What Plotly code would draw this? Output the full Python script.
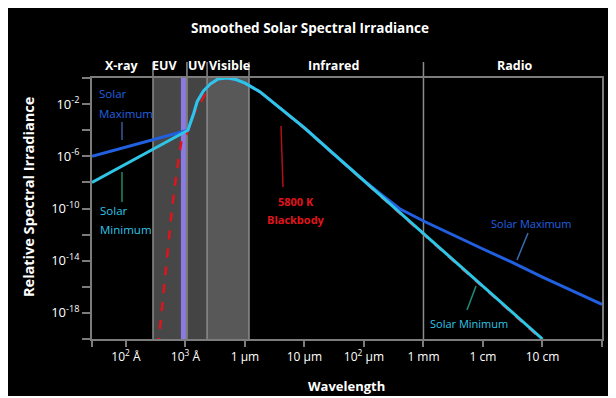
import plotly.graph_objects as go

# ---- data (wavelength in metres, relative irradiance) ----
max_wl = [2.69e-9, 1.10e-7, 1.38e-7, 1.58e-7, 2.00e-7, 2.63e-7, 3.55e-7, 5.01e-7, 7.08e-7,
          1.00e-6, 1.78e-6, 3.16e-6, 5.62e-6, 1.00e-5, 3.16e-5, 1.00e-4, 2.00e-4, 3.98e-4,
          1.00e-3, 3.16e-3, 1.00e-2, 3.16e-2, 1.00e-1, 1.0]
max_irr = [1.0e-6, 1.0e-4, 2.0e-3, 1.6e-2, 1.0e-1, 3.5e-1, 8.5e-1, 1.0, 7.6e-1,
           4.0e-1, 8.9e-2, 1.1e-2, 1.4e-3, 1.5e-4, 1.4e-6, 1.35e-8, 1.1e-9, 9.5e-11,
           1.1e-11, 1.0e-12, 7.9e-14, 7.1e-15, 5.6e-16, 4.5e-18]

min_wl = [2.69e-9, 1.10e-7, 1.38e-7, 1.58e-7, 2.00e-7, 2.63e-7, 3.55e-7, 5.01e-7, 7.08e-7,
          1.00e-6, 1.78e-6, 3.16e-6, 5.62e-6, 1.00e-5, 3.16e-5, 1.00e-4, 3.16e-4,
          1.00e-3, 3.16e-3, 1.00e-2, 3.16e-2, 1.00e-1]
min_irr = [1.0e-8, 1.0e-4, 2.0e-3, 1.6e-2, 1.0e-1, 3.5e-1, 8.5e-1, 1.0, 7.6e-1,
           4.0e-1, 8.9e-2, 1.1e-2, 1.4e-3, 1.5e-4, 1.4e-6, 1.35e-8, 1.26e-10,
           1.26e-12, 1.17e-14, 1.12e-16, 1.07e-18, 1.0e-20]

bb_wl = [3.47e-8, 3.98e-8, 4.68e-8, 5.89e-8, 7.24e-8, 8.71e-8, 1.05e-7, 1.32e-7, 1.78e-7,
         2.51e-7, 3.55e-7, 5.01e-7, 7.08e-7, 1.00e-6, 1.78e-6, 3.16e-6, 1.00e-5, 3.16e-5,
         1.00e-4, 3.16e-4, 1.00e-3, 1.00e-2, 1.00e-1, 1.12e-1]
bb_irr = [2.5e-21, 1.0e-18, 1.0e-15, 6.3e-11, 1.0e-7, 2.5e-5, 5.0e-5, 1.3e-3, 1.2e-2,
          2.5e-1, 8.0e-1, 0.95, 7.4e-1, 3.8e-1, 8.5e-2, 1.05e-2, 1.33e-4, 1.3e-6,
          1.2e-8, 1.15e-10, 1.05e-12, 9.5e-17, 8.9e-21, 5.0e-21]

# spectral bands (wavelength bounds in metres)
band_lo = [2.85e-8, 1.06e-7, 2.31e-7]
band_hi = [1.06e-7, 2.31e-7, 1.17e-6]
band_colors = ["#474747", "#444444", "#585858"]
lyman_lo, lyman_hi = 8.4e-8, 1.02e-7
radio_edge = 1.0e-3
band_labels = ["X-ray", "EUV", "UV", "Visible", "Infrared", "Radio"]

x_tickvals = [1e-8, 1e-7, 1e-6, 1e-5, 1e-4, 1e-3, 1e-2, 1e-1]
x_ticktext = ["10<sup>2</sup> Å", "10<sup>3</sup> Å", "1 µm", "10 µm", "10<sup>2</sup> µm",
              "1 mm", "1 cm", "10 cm"]
x_minor = [2.69e-9, 1.0]
y_exps = [-2, -6, -10, -14, -18]
y_minor_exps = [0, -4, -8, -12, -16, -20]

# ---- layout geometry (page pixels; the page body adds an 8px offset) ----
OFF = 8
W, H = 616 - OFF, 398 - OFF
L, R, T, B = 92, 602, 78, 339          # plot area in page pixels
def px(x):
    return (x - L) / (R - L)
def py(y):
    return (B - y) / (B - T)

BLUE = "#2160e0"
CYAN = "#2fc6e6"
RED = "#e0141c"
FONT = "Open Sans"
AXC = "#7c7c7c"

fig = go.Figure()
fig.add_trace(go.Scatter(x=bb_wl, y=bb_irr, mode="lines",
                         line=dict(color=RED, width=2.5, dash="dash"), hoverinfo="skip"))
fig.add_trace(go.Scatter(x=max_wl, y=max_irr, mode="lines",
                         line=dict(color=BLUE, width=3), hoverinfo="skip"))
fig.add_trace(go.Scatter(x=min_wl, y=min_irr, mode="lines",
                         line=dict(color=CYAN, width=3), hoverinfo="skip"))

shapes = []
shapes.append(dict(type="rect", xref="paper", yref="paper", x0=px(OFF), x1=px(614), y0=py(396), y1=py(OFF),
                   fillcolor="black", line=dict(width=0), layer="below"))
for lo, hi, c in zip(band_lo, band_hi, band_colors):
    shapes.append(dict(type="rect", xref="x", yref="paper", x0=lo, x1=hi, y0=0, y1=1,
                       fillcolor=c, line=dict(width=0), layer="below"))
shapes.append(dict(type="rect", xref="x", yref="paper", x0=lyman_lo, x1=lyman_hi, y0=0, y1=1,
                   fillcolor="#8b7be0", line=dict(width=0), layer="below"))
for xv in [band_lo[0], band_lo[1], band_lo[2], band_hi[2], radio_edge]:
    shapes.append(dict(type="line", xref="x", yref="paper", x0=xv, x1=xv, y0=0, y1=py(62),
                       line=dict(color="#8c8c8c", width=1.5), layer="below"))
ptrs = [((122, 122), (122, 140), "#3a5a9a"),
        ((122, 172), (122, 202), "#1f8a6a"),
        ((281, 126), (283, 187), "#b01018"),
        ((528, 233), (517, 260), "#3a6ab0"),
        ((476, 286), (467, 310), "#1f8a7a")]
for (a, b, c) in ptrs:
    shapes.append(dict(type="line", xref="paper", yref="paper", x0=px(a[0]), y0=py(a[1]),
                       x1=px(b[0]), y1=py(b[1]), line=dict(color=c, width=1.5)))

ann = []
def text(x, y, s, color="white", size=11, anchor="center", bold=False, angle=0):
    ann.append(dict(x=px(x), y=py(y), xref="paper", yref="paper", text=("<b>%s</b>" % s) if bold else s,
                    showarrow=False, xanchor=anchor, yanchor="middle", textangle=angle,
                    font=dict(family=FONT, size=size, color=color)))

text(310, 28, "Smoothed Solar Spectral Irradiance", size=13.5, bold=True)
for name, xc in zip(band_labels, [122, 164, 197, 229, 333, 515]):
    text(xc, 65, name, size=12.5, bold=True)
text(97, 93, "Solar", BLUE, 11.5, "left")
text(97, 113, "Maximum", BLUE, 11.5, "left")
text(98, 210, "Solar", CYAN, 11.5, "left")
text(98, 229, "Minimum", CYAN, 11.5, "left")
text(296, 201, "5800 K", RED, 11, bold=True)
text(296, 220, "Blackbody", RED, 11, bold=True)
text(531, 223, "Solar Maximum", BLUE, 11)
text(469, 323, "Solar Minimum", CYAN, 11)
text(346, 386, "Wavelength", size=13, bold=True)
text(28, 197, "Relative Spectral Irradiance", size=14.5, bold=True, angle=-90)

fig.update_layout(
    width=W, height=H,
    margin=dict(l=L - OFF, r=616 - R, t=T - OFF, b=398 - B),
    paper_bgcolor="white", plot_bgcolor="rgba(0,0,0,0)",
    showlegend=False, shapes=shapes, annotations=ann,
    font=dict(family=FONT, color="white"),
)
fig.update_xaxes(type="log", range=[-8.57, 0], tickvals=x_tickvals, ticktext=x_ticktext,
                 showgrid=False, zeroline=False, showline=True, mirror=True, linecolor=AXC,
                 linewidth=2, ticks="outside", ticklen=6, tickwidth=1.5, tickcolor=AXC,
                 minor=dict(tickvals=x_minor, ticks="outside", ticklen=6, tickwidth=1.5,
                            tickcolor=AXC, showgrid=False),
                 tickfont=dict(family=FONT, size=12, color="white"))
fig.update_yaxes(type="log", range=[-20, 0], tickvals=[10.0 ** e for e in y_exps],
                 ticktext=["10<sup>%d</sup>" % e for e in y_exps],
                 showgrid=False, zeroline=False, showline=True, mirror=True, linecolor=AXC,
                 linewidth=2, ticks="outside", ticklen=8, tickwidth=1.5, tickcolor=AXC,
                 minor=dict(tickvals=[10.0 ** e for e in y_minor_exps], ticks="outside", ticklen=8,
                            tickwidth=1.5, tickcolor=AXC, showgrid=False),
                 tickfont=dict(family=FONT, size=13, color="white"))

fig.write_html("out.html")
